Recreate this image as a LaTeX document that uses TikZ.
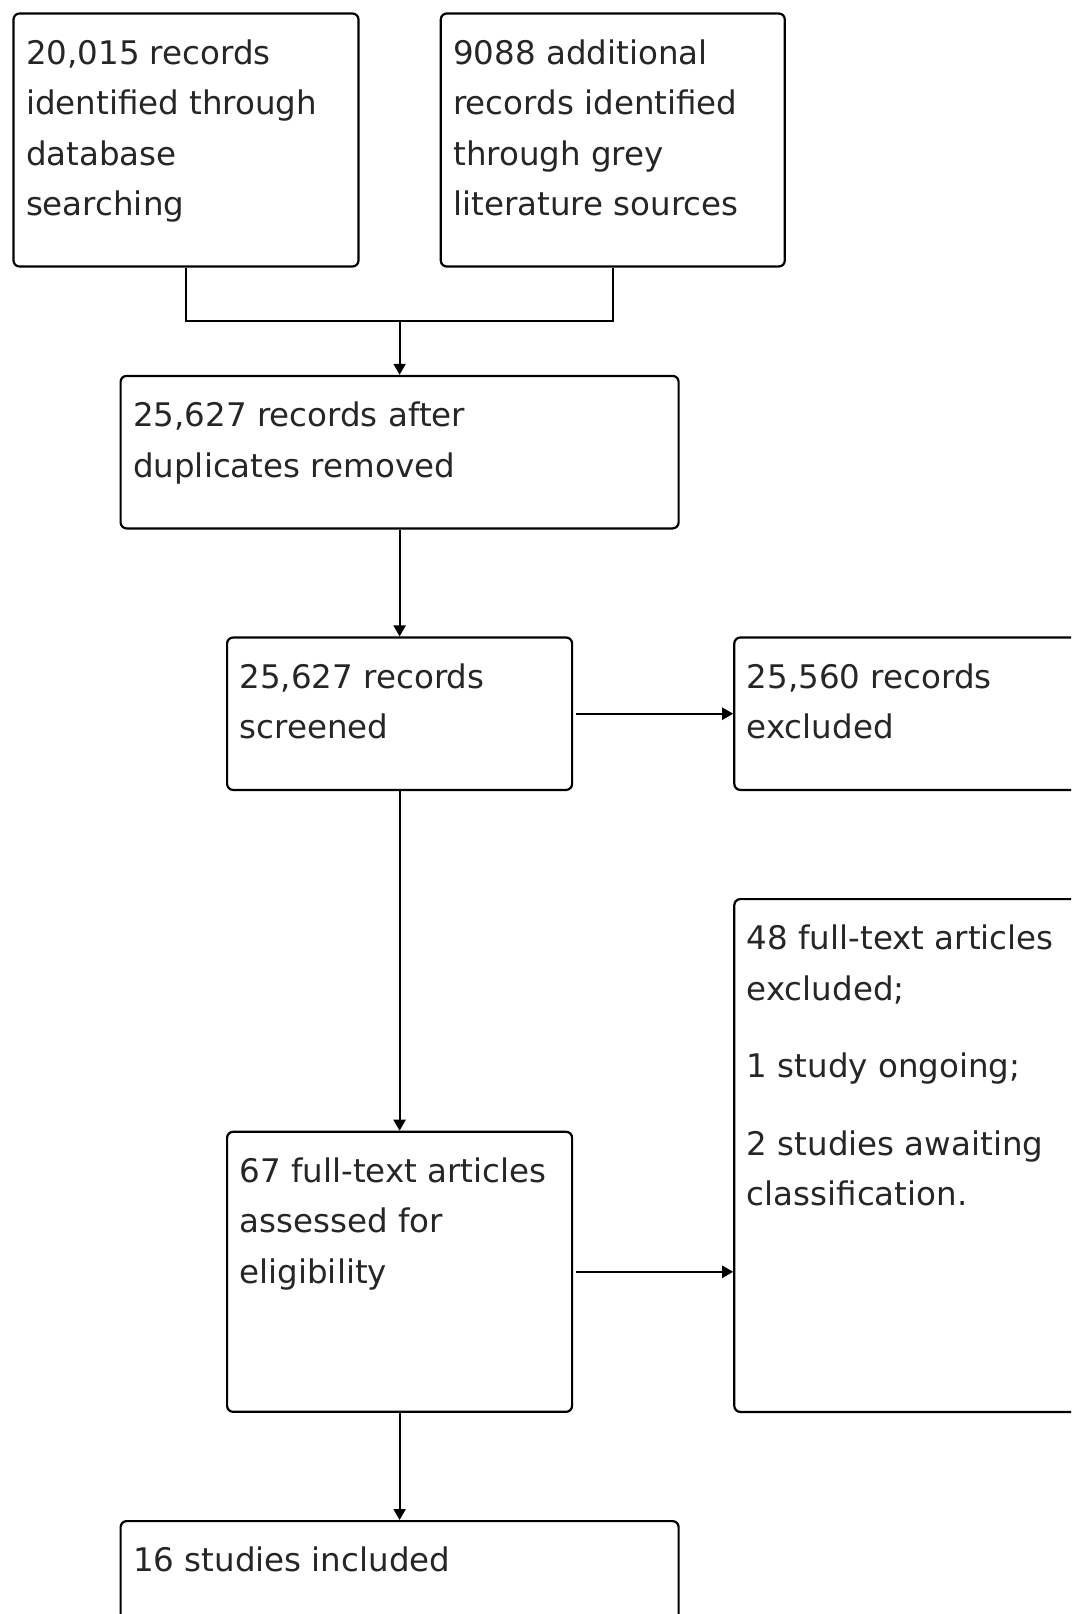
\documentclass[tikz,border=0pt]{standalone}
\usepackage{fontspec}
\setmainfont{DejaVu Sans}
\usetikzlibrary{arrows.meta,calc}
\tikzset{
  box/.style={draw=black, line width=2.2pt, rounded corners=6pt, inner sep=0pt, anchor=north west},
  txt/.style={inner sep=0pt, anchor=north west, align=left, text=black!85, font=\fontsize{32.5}{50.5}\selectfont},
  conn/.style={draw=black, line width=2.2pt},
  arr/.style={conn, -{Triangle[length=11pt,width=12pt]}},
}
\begin{document}
\begin{tikzpicture}[x=1pt,y=-1pt]
\clip (0,0) rectangle (1071,1614);
\fill[white] (0,0) rectangle (1071,1614);
% boxes
\node[box, minimum width=345pt, minimum height=253pt] (b1) at (12.4,12.4) {};
\node[box, minimum width=344pt, minimum height=253pt] (b2) at (439.7,12.4) {};
\node[box, minimum width=558pt, minimum height=152.5pt] (b3) at (119.5,374.8) {};
\node[box, minimum width=345pt, minimum height=152.4pt] (b4) at (226,636.4) {};
\node[box, minimum width=380pt, minimum height=152.4pt] (b5) at (733.2,636.4) {};
\node[box, minimum width=345pt, minimum height=280pt] (b6) at (226,1130.7) {};
\node[box, minimum width=380pt, minimum height=512.8pt] (b7) at (733.2,898) {};
\node[box, minimum width=558pt, minimum height=180pt] (b8) at (119.5,1520) {};
% texts
\node[txt] (t1) at ($(b1.north west)+(13.4,16.2)$) {\strut 20,015 records\\identified through\\database\\searching};
\node[txt] (t2) at ($(b2.north west)+(13.4,16.2)$) {\strut 9088 additional\\records identified\\through grey\\literature sources};
\node[txt] (t3) at ($(b3.north west)+(13.4,16.2)$) {\strut 25,627 records after\\duplicates removed};
\node[txt] (t4) at ($(b4.north west)+(13.4,16.2)$) {\strut 25,627 records\\screened};
\node[txt] (t5) at ($(b5.north west)+(13.4,16.2)$) {\strut 25,560 records\\excluded};
\node[txt] (t6) at ($(b6.north west)+(13.4,16.2)$) {\strut 67 full-text articles\\assessed for\\eligibility};
\node[txt] (t7) at ($(b7.north west)+(13.4,16.2)$) {\strut 48 full-text articles\\excluded;\\[27pt]1 study ongoing;\\[27pt]2 studies awaiting\\classification.};
\node[txt] (t8) at ($(b8.north west)+(13.4,16.2)$) {\strut 16 studies included};
% connectors
\coordinate (jy) at (0,321.3);
\coordinate (j) at (b3.north |- jy);
\draw[conn] (b1.south) |- (j) -| (b2.south);
\draw[arr] (j) -- (b3.north);
\draw[arr] (b3.south) -- (b4.north);
\draw[arr, shorten <=3pt] (b4.east) -- (b4.east -| b5.west);
\draw[arr] (b4.south) -- (b6.north);
\draw[arr, shorten <=3pt] (b6.east) -- (b6.east -| b7.west);
\draw[arr] (b6.south) -- (b8.north);
\end{tikzpicture}
\end{document}
